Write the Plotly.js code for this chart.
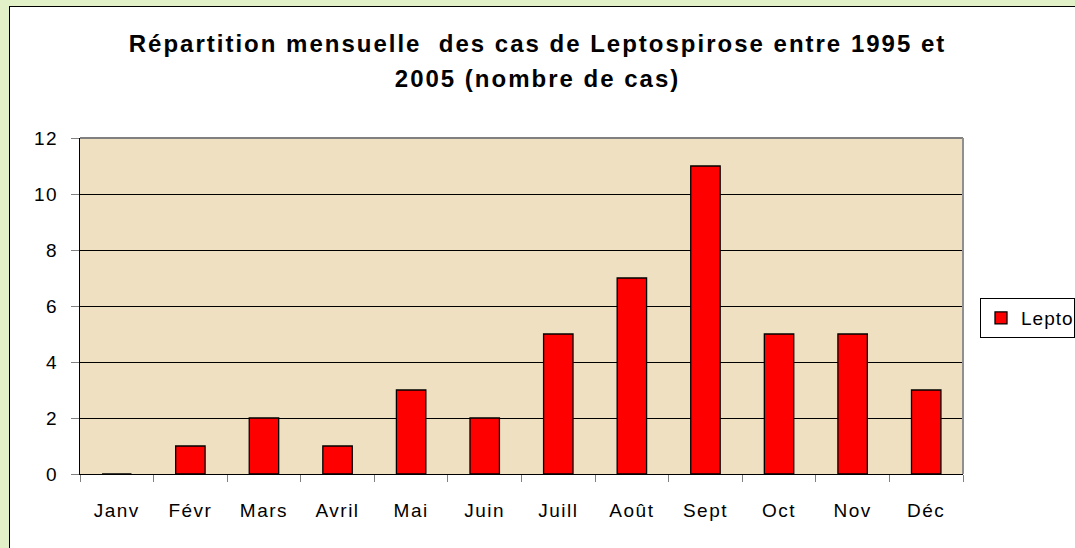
<!DOCTYPE html>
<html><head><meta charset="utf-8">
<script src="https://cdn.plot.ly/plotly-3.0.1.min.js"></script>
<style>
html,body{margin:0;padding:0;background:#e3f1c8;overflow:hidden;}
#frame{position:absolute;left:9px;top:6px;width:1100px;height:600px;background:#ffffff;border:1.5px solid #000;box-sizing:border-box;}
#chart{position:absolute;left:0;top:0;width:1075px;height:548px;}
#chart .xtick text, #chart .ytick text {letter-spacing:1.5px;}
#chart .legendtext {letter-spacing:1px;}
#chart .gtitle {letter-spacing:2px;}
</style>
</head><body><div id="frame"></div><div id="chart"></div>
<script>
const months = ["Janv","Févr","Mars","Avril","Mai","Juin","Juill","Août","Sept","Oct","Nov","Déc"];
const cases = [0,1,2,1,3,2,5,7,11,5,5,3];
const yTicks = [0,2,4,6,8,10,12];
const seriesName = "Lepto";
const titleText = "Répartition mensuelle&nbsp; des cas de Leptospirose entre 1995 et<br>2005 (nombre de cas)";

const F = "Liberation Sans, Arial, sans-serif";
const data = [{
  type: "bar", x: months, y: cases, name: seriesName,
  marker: {color: "#ff0000", line: {color: "#000000", width: 1.3}},
  showlegend: true
}];
const layout = {
  width: 1075, height: 548,
  margin: {l: 80, r: 112, t: 138, b: 74, autoexpand: false},
  paper_bgcolor: "rgba(0,0,0,0)",
  plot_bgcolor: "#eee0c0",
  font: {family: F, color: "#000", size: 19},
  title: {text: titleText,
          font: {family: F, size: 24, color: "#000", weight: "bold"},
          x: 0.5, xref: "container", xanchor: "center", y: 0.905, yref: "container", yanchor: "top"},
  bargap: 0.6,
  xaxis: {type: "category", showline: true, linecolor: "#000000", linewidth: 1,
          ticks: "outside", tickson: "boundaries", ticklen: 7, tickcolor: "#808080",
          ticklabelstandoff: 19, tickfont: {size: 19}, showgrid: false, fixedrange: true},
  yaxis: {range: [0, 12], tickvals: yTicks, showline: true, linecolor: "#000000",
          ticks: "outside", ticklen: 8, tickcolor: "#808080", ticklabelstandoff: 9,
          gridcolor: "#000000", gridwidth: 1, zeroline: false, tickfont: {size: 19}},
  legend: {x: (980-80)/883, xanchor: "left", y: 0.464, yanchor: "middle", bgcolor: "#ffffff",
           bordercolor: "#000000", borderwidth: 1, font: {size: 19}},
  shapes: [
    {type: "line", xref: "paper", yref: "paper", layer: "above", x0: 0, x1: 1, y0: 1, y1: 1,
     line: {color: "#808080", width: 2}},
    {type: "line", xref: "paper", yref: "paper", layer: "above", x0: 1, x1: 1, y0: 0, y1: 1,
     line: {color: "#909090", width: 2}}
  ]
};
Plotly.newPlot("chart", data, layout, {displayModeBar: false, staticPlot: true}).then(function(gd){
  // widen the gap between the two title lines to match the reference
  const t = gd.querySelector(".gtitle");
  if (t) {
    const lines = t.querySelectorAll("tspan.line");
    if (lines.length > 1) lines[1].setAttribute("dy", "1.45em");
  }
});
</script></body></html>
